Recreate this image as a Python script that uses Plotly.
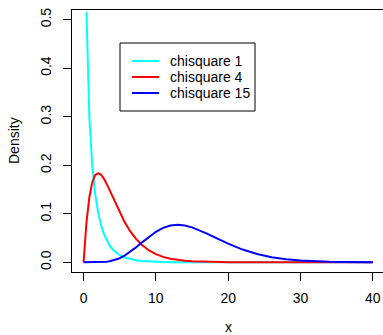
import plotly.graph_objects as go

# x grid and chi-square density values
x_vals = [0, 0.4, 0.8, 1.2, 1.6, 2, 2.4, 2.8, 3.2, 3.6, 4, 4.8, 5.6, 6.4, 7.2, 8,
          9, 10, 11, 12, 13, 14, 15, 16, 17, 18, 19, 20, 22, 24, 26, 28, 30,
          32, 34, 36, 38, 40]
chisq1 = [None, 0.5164, 0.2990, 0.1999, 0.1417, 0.1038, 0.0776, 0.0588, 0.0450,
          0.0348, 0.0270, 0.0165, 0.01025, 0.00643, 0.00406, 0.00258, 0.00148,
          0.00085, 0.00049, 0.000285, 0.000166, 0.000097, 0.000057, 0.000034,
          0.00002, 0.000012, 0.000007, 0.000004, 0.0000015, 0.0000005, 0.0000002,
          0.0000001, 0.0, 0.0, 0.0, 0.0, 0.0, 0.0]
chisq4 = [0.0, 0.0819, 0.1341, 0.1646, 0.1797, 0.1839, 0.1807, 0.1726, 0.1615,
          0.1488, 0.1353, 0.1089, 0.0851, 0.0652, 0.0492, 0.0366, 0.0250, 0.0168,
          0.0112, 0.00744, 0.00489, 0.00319, 0.00207, 0.00134, 0.00086, 0.00056,
          0.00036, 0.00023, 0.00009, 0.00004, 0.000015, 0.000006, 0.000002,
          0.000001, 0.0, 0.0, 0.0, 0.0]
chisq15 = [0.0, 0.0, 0.0000005, 0.0000053, 0.000028, 0.0000984, 0.000263, 0.000586,
           0.001145, 0.002016, 0.003272, 0.00718, 0.01311, 0.02092, 0.03015, 0.04010,
           0.05229, 0.06290, 0.07088, 0.07569, 0.07724, 0.07584, 0.07203, 0.06646,
           0.05978, 0.05258, 0.04533, 0.03836, 0.02622, 0.01698, 0.01051, 0.00626,
           0.00360, 0.00202, 0.00110, 0.000587, 0.000307, 0.000158]

series_names = ["chisquare 1", "chisquare 4", "chisquare 15"]
series_colors = ["#00FFFF", "#FF0000", "#0000FF"]
x_ticks = [0, 10, 20, 30, 40]
y_ticks = [0.0, 0.1, 0.2, 0.3, 0.4, 0.5]
y_tick_text = ["0.0", "0.1", "0.2", "0.3", "0.4", "0.5"]

FONT = "Liberation Sans, Arial, Helvetica, sans-serif"
FS = 14
W, H = 383, 335
ML, MR, MT, MB = 72, 0, 10, 63
PW, PH = W - ML - MR, H - MT - MB


def px(xp):
    return (xp - ML) / PW


def py(yp):
    return 1 - (yp - MT) / PH


fig = go.Figure()
for name, ys, col in zip(series_names, [chisq1, chisq4, chisq15], series_colors):
    fig.add_trace(go.Scatter(x=x_vals, y=ys, mode="lines", name=name,
                             line=dict(color=col, width=2), connectgaps=False))

# legend box (R style) drawn in paper coordinates
shapes = [dict(type="rect", xref="paper", yref="paper", x0=px(120), x1=px(255),
               y0=py(111), y1=py(43), line=dict(color="#000000", width=1),
               fillcolor="white", layer="above")]
annotations = []
for i, (name, col) in enumerate(zip(series_names, series_colors)):
    row_y = 61 + 16 * i
    shapes.append(dict(type="line", xref="paper", yref="paper", x0=px(132), x1=px(159),
                       y0=py(row_y), y1=py(row_y), line=dict(color=col, width=2),
                       layer="above"))
    annotations.append(dict(text=name, xref="paper", yref="paper", x=px(168), y=py(row_y),
                            xanchor="left", yanchor="middle", showarrow=False,
                            font=dict(size=FS, color="#000000")))

annotations += [
    dict(text="Density", xref="paper", yref="paper", x=px(14), y=0.5,
         textangle=-90, showarrow=False, xanchor="center", yanchor="middle",
         font=dict(size=FS)),
    dict(text="x", xref="paper", yref="paper", x=px(228), y=py(327),
         showarrow=False, xanchor="center", yanchor="middle", font=dict(size=FS)),
]

fig.update_layout(
    width=W, height=H, autosize=False,
    margin=dict(l=ML, r=MR, t=MT, b=MB, pad=0),
    paper_bgcolor="white", plot_bgcolor="white",
    font=dict(family=FONT, size=FS, color="#000000"),
    showlegend=False,
    xaxis=dict(range=[-1.6, -1.6 + PW / 7.23], tickvals=x_ticks, ticks="outside",
               ticklen=8, tickcolor="#000000", showline=True, linecolor="#000000",
               linewidth=1, mirror=True, showgrid=False, zeroline=False,
               tickfont=dict(size=FS), ticklabelstandoff=5),
    yaxis=dict(range=[-0.02, 0.52], tickvals=y_ticks, ticktext=y_tick_text,
               ticks="outside", ticklen=8, tickcolor="#000000", tickangle=-90,
               showline=True, linecolor="#000000", linewidth=1, mirror=False,
               showgrid=False, zeroline=False, tickfont=dict(size=FS),
               ticklabelstandoff=6),
    shapes=shapes,
    annotations=annotations,
)

fig.write_html("out.html")
